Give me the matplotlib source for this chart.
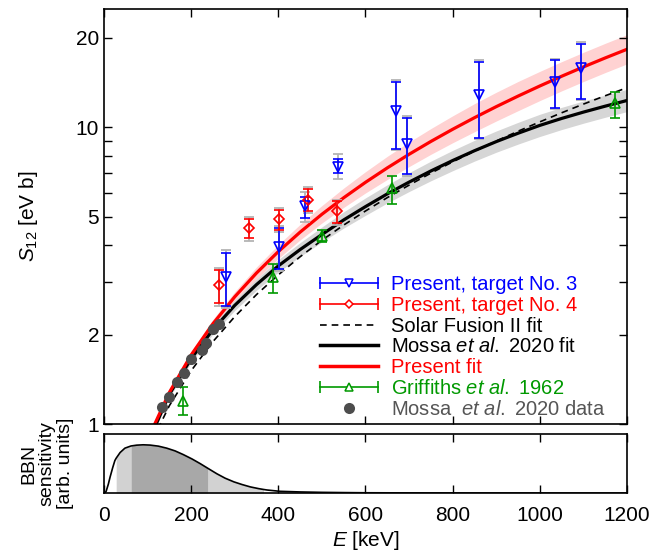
import numpy as np
import matplotlib
matplotlib.use("Agg")
import matplotlib.pyplot as plt
from matplotlib.lines import Line2D
from matplotlib.legend_handler import HandlerLine2D
from matplotlib.ticker import FixedLocator, FixedFormatter, NullFormatter
from matplotlib import font_manager

plt.rcParams['font.family'] = ['Liberation Sans', 'DejaVu Sans']
plt.rcParams['mathtext.fontset'] = 'custom'
plt.rcParams['mathtext.rm'] = 'Liberation Sans'
plt.rcParams['mathtext.it'] = 'Liberation Sans:italic'

names = {f.name for f in font_manager.fontManager.ttflist}
tick_font = 'Liberation Sans Narrow' if 'Liberation Sans Narrow' in names else 'Liberation Sans'

# ---- data ----
# present work, target No. 3 (stat. errors + total errors)
E_t3 = [280, 401, 461, 536, 670, 695, 860, 1034, 1095]
S_t3 = [3.13, 3.94, 5.41, 7.33, 11.3, 8.78, 12.8, 14.2, 15.8]
S_t3_lo = [2.49, 3.34, 4.95, 7.00, 8.47, 6.94, 9.2, 11.6, 12.4]
S_t3_hi = [3.78, 4.57, 5.83, 7.82, 14.2, 10.74, 16.6, 16.8, 19.1]
S_t3_tlo = [2.45, 3.28, 4.79, 6.70, 8.35, 6.85, 9.1, 11.5, 12.3]
S_t3_thi = [3.85, 4.65, 6.04, 8.12, 14.4, 10.9, 16.8, 17.0, 19.4]

# present work, target No. 4
E_t4 = [265, 333, 401, 467, 535]
S_t4 = [2.93, 4.56, 4.90, 5.69, 5.20]
S_t4_lo = [2.55, 4.22, 4.49, 5.20, 4.75]
S_t4_hi = [3.31, 4.90, 5.27, 6.18, 5.62]
S_t4_tlo = [2.50, 4.15, 4.42, 5.12, 4.68]
S_t4_thi = [3.36, 4.98, 5.36, 6.28, 5.70]

# Griffiths et al. 1962
E_gr = [182, 388, 500, 660, 1172]
S_gr = [1.20, 3.13, 4.31, 6.23, 12.06]
S_gr_lo = [1.07, 2.76, 4.11, 5.53, 10.76]
S_gr_hi = [1.335, 3.45, 4.51, 6.85, 13.16]

# Mossa et al. 2020 data
E_mo = [133, 150, 167, 184, 200, 224, 233, 251, 263]
S_mo = [1.14, 1.23, 1.38, 1.48, 1.65, 1.78, 1.87, 2.09, 2.17]

# fit curves
E_fit = [100, 150, 200, 250, 300, 350, 400, 450, 500, 550, 600, 650,
         700, 750, 800, 850, 900, 950, 1000, 1050, 1100, 1150, 1200]
S_present = [0.886, 1.278, 1.708, 2.177, 2.683, 3.227, 3.810, 4.430, 5.089,
             5.785, 6.520, 7.292, 8.103, 8.952, 9.838, 10.763, 11.726,
             12.726, 13.765, 14.842, 15.957, 17.110, 18.300]
S_present_frac = [0.02, 0.025, 0.03, 0.035, 0.04, 0.048, 0.055, 0.062, 0.07,
                  0.078, 0.086, 0.094, 0.10, 0.105, 0.11, 0.115, 0.118,
                  0.12, 0.12, 0.12, 0.12, 0.12, 0.12]
S_mossa = [0.86, 1.26, 1.66, 2.08, 2.51, 2.95, 3.41, 3.87, 4.35, 4.87, 5.40,
           5.96, 6.53, 7.12, 7.72, 8.33, 8.94, 9.54, 10.14, 10.70, 11.24,
           11.77, 12.30]
S_mossa_frac = [0.02, 0.025, 0.03, 0.035, 0.04, 0.045, 0.05, 0.055, 0.06,
                0.065, 0.07, 0.073, 0.076, 0.079, 0.082, 0.084, 0.086,
                0.088, 0.09, 0.09, 0.09, 0.09, 0.09]
S_sf2 = [0.817, 1.153, 1.512, 1.895, 2.30, 2.73, 3.18, 3.66, 4.16, 4.68,
         5.22, 5.79, 6.38, 7.00, 7.64, 8.30, 8.98, 9.69, 10.42, 11.18,
         11.96, 12.76, 13.58]

# BBN sensitivity (arb. units)
E_bbn = [0, 2, 5, 10, 14, 20, 25, 28, 37, 48, 62, 75, 90, 106, 125, 144,
         163, 182, 202, 221, 238, 259, 278, 298, 317, 336, 355, 366, 374,
         403, 450, 500, 550, 600, 700, 800, 1000, 1200]
bbn = [0, 0, 0.03, 0.15, 0.27, 0.43, 0.55, 0.59, 0.686, 0.76, 0.797, 0.811,
       0.817, 0.812, 0.794, 0.76, 0.714, 0.651, 0.577, 0.497, 0.42, 0.326,
       0.251, 0.189, 0.143, 0.103, 0.074, 0.06, 0.051, 0.029, 0.018, 0.011,
       0.007, 0.004, 0.002, 0.001, 0.0, 0.0]
bbn_light = [(28, 62), (238, 366)]
bbn_dark = [(62, 238)]

yticks_major = [1, 2, 5, 10, 20]
yticks_minor = [3, 4, 6, 7, 8, 9]
xticks = [0, 200, 400, 600, 800, 1000, 1200]

blue = '#0000ff'
red = '#ff0000'
green = '#009900'
dotc = '#4d4d4d'
syst = '#b4b4b4'

fig = plt.figure(figsize=(6.64, 5.55), dpi=100)
ax = fig.add_axes([0.1566, 0.236, 0.7877, 0.7477])
axb = fig.add_axes([0.1566, 0.1117, 0.7877, 0.1063])

E_fit = np.array(E_fit)
Sp = np.array(S_present)
fp = 1 + np.array(S_present_frac)
Sm = np.array(S_mossa)
fm = 1 + np.array(S_mossa_frac)

ax.fill_between(E_fit, Sp / fp, Sp * fp, color='#ffd2d2', lw=0, zorder=1)
ax.fill_between(E_fit, Sm / fm, Sm * fm, color='#d6d6d6', lw=0, zorder=1)
ax.plot(E_fit, S_sf2, color='k', ls=(0, (4, 3)), lw=1.2, zorder=2)
ax.plot(E_fit, Sm, color='k', lw=2.3, zorder=2)
ax.plot(E_fit, Sp, color=red, lw=2.3, zorder=2)


def err(S, lo, hi):
    S = np.array(S)
    return [S - np.array(lo), np.array(hi) - S]


# total (grey) errors behind the statistical ones
ax.errorbar(E_t3, S_t3, yerr=err(S_t3, S_t3_tlo, S_t3_thi), fmt='none',
            ecolor=syst, elinewidth=1.3, capsize=3.6, capthick=1.3, zorder=3)
ax.errorbar(E_t4, S_t4, yerr=err(S_t4, S_t4_tlo, S_t4_thi), fmt='none',
            ecolor=syst, elinewidth=1.3, capsize=3.6, capthick=1.3, zorder=3)

ax.errorbar(E_t3, S_t3, yerr=err(S_t3, S_t3_lo, S_t3_hi), fmt='v', ms=6.5,
            mfc='none', mec=blue, mew=1.2, color=blue, elinewidth=1.2,
            capsize=3.6, capthick=1.2, zorder=4)
ax.errorbar(E_t4, S_t4, yerr=err(S_t4, S_t4_lo, S_t4_hi), fmt='D', ms=5,
            mfc='none', mec=red, mew=1.2, color=red, elinewidth=1.2,
            capsize=3.6, capthick=1.2, zorder=4)
ax.errorbar(E_gr, S_gr, yerr=err(S_gr, S_gr_lo, S_gr_hi), fmt='^', ms=7,
            mfc='none', mec=green, mew=1.2, color=green, elinewidth=1.2,
            capsize=3.6, capthick=1.2, zorder=4)
ax.plot(E_mo, S_mo, 'o', color=dotc, ms=8, mec='none', zorder=5)

ax.set_yscale('log')
ax.set_xlim(0, 1200)
ax.set_ylim(1, 25)
ax.yaxis.set_major_locator(FixedLocator(yticks_major))
ax.yaxis.set_major_formatter(FixedFormatter([str(t) for t in yticks_major]))
ax.yaxis.set_minor_locator(FixedLocator(yticks_minor))
ax.yaxis.set_minor_formatter(NullFormatter())
ax.set_xticks(xticks)
ax.set_xticklabels([])
ax.tick_params(which='both', direction='in', top=True, right=True,
               length=5.5, width=1.0)
for lab in ax.get_yticklabels():
    lab.set_fontfamily(tick_font)
    lab.set_fontsize(15)
ax.set_ylabel(r'$S_{12}$ [eV b]', fontsize=15)
ax.yaxis.set_label_coords(-0.122, 0.5)

# legend with horizontal bar handles
def bar_handle(c, m, ms):
    caps = Line2D([], [], color=c, lw=1.2, marker='|', ms=8, mew=1.2)
    mk = Line2D([], [], color=c, ls='none', marker=m, ms=ms, mfc='white',
                mec=c, mew=1.1)
    return (caps, mk), caps

h1, c1 = bar_handle(blue, 'v', 5.5)
h2, c2 = bar_handle(red, 'D', 4)
h6, c6 = bar_handle(green, '^', 6)
h3 = Line2D([], [], color='k', ls=(0, (4, 3)), lw=1.2)
h4 = Line2D([], [], color='k', lw=2.5)
h5 = Line2D([], [], color=red, lw=2.5)
h7 = Line2D([], [], color=dotc, ls='none', marker='o', ms=8, mec='none')
hm = {c: HandlerLine2D(marker_pad=0, numpoints=2) for c in (c1, c2, c6)}
labels = ['Present, target No. 3', 'Present, target No. 4',
          'Solar Fusion II fit', r'Mossa $\it{et\ al.}$ 2020 fit',
          'Present fit', r'Griffiths $\it{et\ al.}$ 1962',
          r'Mossa  $\it{et\ al.}$ 2020 data']
ax.legend([h1, h2, h3, h4, h5, h6, h7], labels, handler_map=hm,
          loc='upper left', bbox_to_anchor=(0.413, 0.359), frameon=False,
          fontsize=14.5, handlelength=2.9, handletextpad=0.65,
          labelspacing=0.09, borderpad=0, borderaxespad=0, numpoints=1,
          labelcolor=[blue, red, 'k', 'k', red, green, '#555555'])

for s in ax.spines.values():
    s.set_linewidth(1.2)

# BBN sensitivity panel
E_bbn = np.array(E_bbn)
bbn = np.array(bbn)
for lo, hi in bbn_light:
    m = (E_bbn >= lo) & (E_bbn <= hi)
    axb.fill_between(E_bbn[m], 0, bbn[m], color='#d2d2d2', lw=0)
for lo, hi in bbn_dark:
    m = (E_bbn >= lo) & (E_bbn <= hi)
    axb.fill_between(E_bbn[m], 0, bbn[m], color='#a8a8a8', lw=0)
axb.plot(E_bbn, bbn, color='k', lw=1.2)
axb.set_xlim(0, 1200)
axb.set_ylim(0, 1)
axb.set_yticks([])
axb.set_xticks(xticks)
axb.set_xticklabels([str(t) for t in xticks])
axb.tick_params(which='both', direction='in', top=True, length=5.5,
                width=1.0, pad=9)
for lab in axb.get_xticklabels():
    lab.set_fontfamily(tick_font)
    lab.set_fontsize(15)
for s in axb.spines.values():
    s.set_linewidth(1.2)
axb.set_xlabel(r'$E$ [keV]', fontsize=15, labelpad=3)
axb.set_ylabel('BBN\nsensitivity\n[arb. units]', fontsize=14, linespacing=1.1)
axb.yaxis.set_label_coords(-0.057, 0.5)

fig.savefig('out.png', dpi=100)
